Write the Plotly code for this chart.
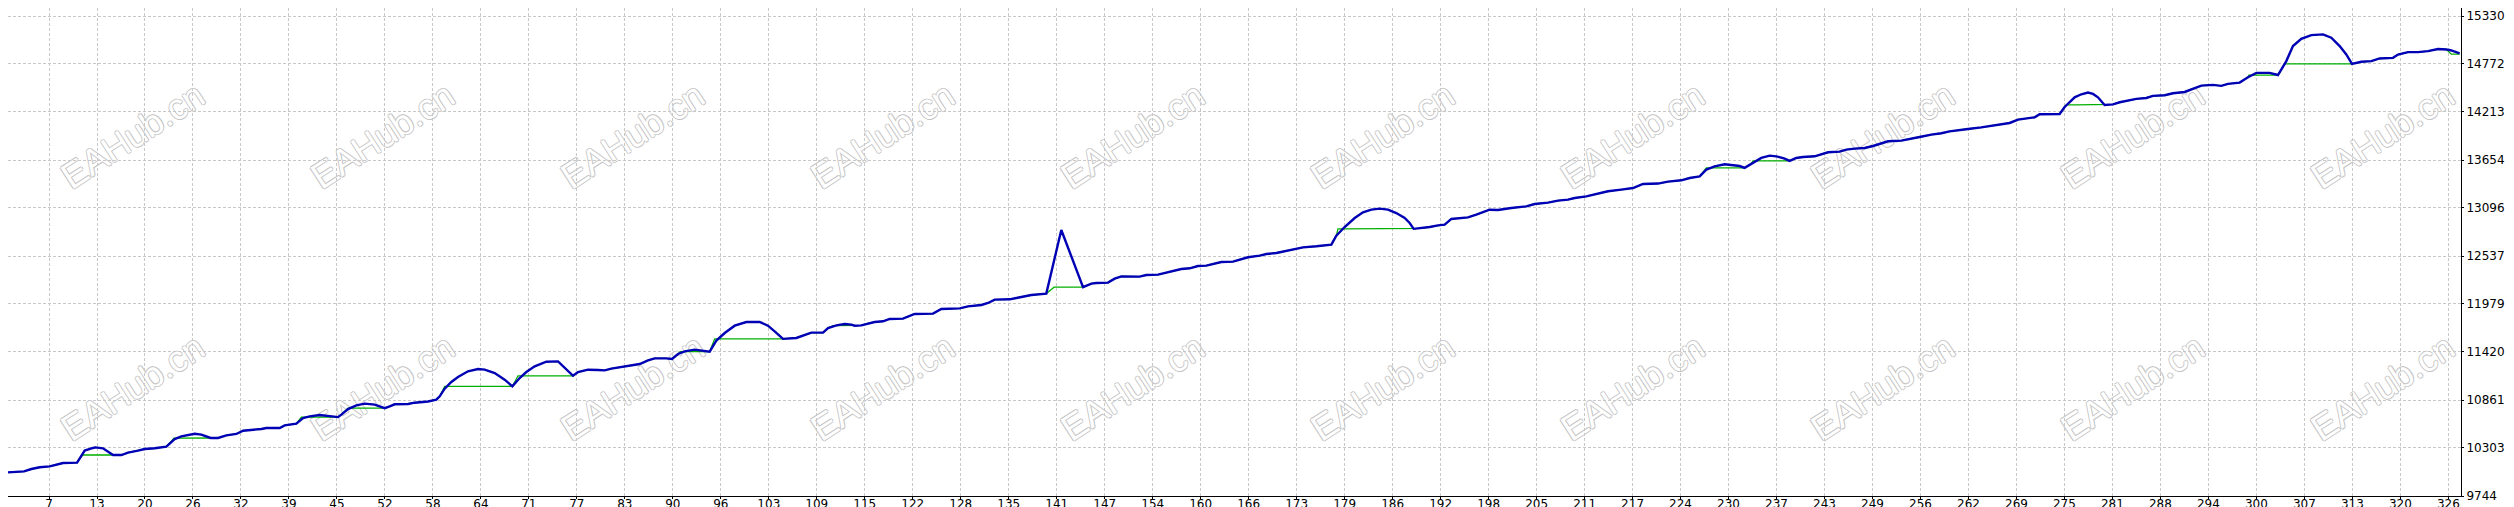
import plotly.graph_objects as go

# equity curve (blue), vertices
equity_x = [
    0.93, 3.07, 4.05, 5.16, 6.49, 7.60, 8.27, 10.14, 11.16, 12.27, 12.58, 13.60, 14.94,
    16.05, 16.94, 18.27, 19.16, 20.49, 21.38, 22.05, 23.16, 24.05, 25.83, 26.72, 27.96,
    28.94, 30.05, 31.39, 32.28, 33.39, 34.72, 35.39, 37.17, 37.83, 39.39, 40.28, 41.17,
    42.50, 43.61, 44.95, 45.39, 46.28, 47.39, 48.50, 49.84, 50.72, 51.17, 51.84, 52.50,
    54.28, 55.17, 56.95, 58.06, 58.51, 59.17, 60.06, 60.95, 62.28, 63.62, 64.51, 65.84,
    67.17, 68.20, 69.17, 70.06, 71.18, 72.73, 74.29, 75.18, 76.29, 76.95, 78.29, 79.62,
    80.51, 81.40, 82.73, 84.07, 85.18, 86.29, 87.18, 88.73, 89.49, 90.29, 91.18, 92.51,
    93.63, 94.51, 95.40, 96.52, 97.85, 99.40, 101.18, 102.29, 103.18, 104.29, 106.07,
    107.18, 108.07, 109.63, 110.30, 111.41, 112.52, 113.41, 113.85, 114.74, 115.63,
    116.52, 117.63, 118.52, 120.30, 121.85, 124.30, 125.41, 127.86, 128.97, 130.75,
    131.64, 132.53, 134.53, 135.41, 136.53, 137.41, 139.41, 141.41, 144.31, 145.42,
    146.08, 147.64, 148.53, 149.42, 151.86, 152.75, 154.31, 155.64, 157.42, 158.53,
    159.64, 160.75, 161.87, 162.75, 164.31, 164.75, 166.31, 167.87, 168.76, 170.09,
    171.65, 172.98, 173.65, 175.42, 176.54, 177.43, 178.09, 179.20, 180.54, 181.65,
    182.76, 183.87, 184.98, 186.09, 187.21, 187.87, 188.41, 189.43, 190.54, 191.65,
    192.54, 193.43, 194.54, 195.65, 196.76, 197.65, 198.54, 199.65, 200.54, 201.43,
    203.43, 204.54, 206.32, 207.66, 208.99, 209.88, 211.43, 212.55, 214.32, 216.10,
    217.66, 218.99, 220.99, 222.33, 224.10, 225.22, 226.55, 227.44, 228.55, 229.88,
    231.22, 231.89, 232.55, 233.44, 234.77, 235.88, 236.77, 237.89, 238.55, 239.44,
    240.33, 241.89, 242.78, 243.67, 245.22, 246.11, 247.22, 248.56, 249.67, 250.78,
    251.67, 253.45, 254.78, 255.89, 257.45, 258.78, 259.89, 261.00, 262.34, 264.11,
    265.45, 266.78, 267.89, 269.01, 270.34, 271.23, 271.89, 274.56, 275.23, 276.56,
    277.45, 278.34, 279.01, 279.67, 280.56, 281.68, 282.57, 283.68, 284.79, 286.12,
    287.01, 288.57, 289.68, 291.23, 292.12, 293.46, 295.01, 296.12, 297.01, 298.57,
    299.68, 300.79, 302.57, 303.68, 304.79, 305.68, 306.79, 308.13, 309.68, 310.79,
    311.91, 312.79, 313.55, 314.80, 316.13, 317.24, 319.02, 319.69, 321.02, 322.35,
    323.69, 325.02, 326.13, 326.80, 327.91,
]
equity_y = [
    10019, 10031, 10058, 10078, 10089, 10109, 10128, 10132, 10272, 10303, 10310, 10299, 10221,
    10221, 10248, 10272, 10291, 10299, 10314, 10318, 10407, 10438, 10469, 10458, 10419,
    10419, 10450, 10466, 10504, 10512, 10524, 10535, 10535, 10566, 10586, 10652, 10671,
    10687, 10675, 10662, 10691, 10756, 10799, 10819, 10807, 10784, 10766, 10788, 10811,
    10815, 10830, 10844, 10865, 10904, 10993, 11071, 11129, 11195, 11222, 11214, 11175,
    11098, 11020, 11117, 11187, 11253, 11307, 11311, 11241, 11143, 11187, 11214, 11210,
    11206, 11226, 11245, 11261, 11280, 11323, 11346, 11346, 11338, 11397, 11428, 11447,
    11439, 11424, 11552, 11641, 11726, 11769, 11769, 11726, 11660, 11573, 11583,
    11621, 11645, 11645, 11699, 11730, 11746, 11738, 11726, 11730, 11753,
    11769, 11777, 11804, 11808, 11862, 11866, 11920, 11928, 11951, 11967,
    11990, 12029, 12033, 12048, 12064, 12083, 12099, 12840, 12174, 12215,
    12223, 12227, 12273, 12300, 12297, 12316, 12320, 12347, 12386, 12394,
    12421, 12425, 12452, 12467, 12471, 12483, 12522, 12541, 12560, 12572,
    12599, 12618, 12638, 12650, 12661, 12669, 12774, 12874, 12979, 13045,
    13076, 13088, 13076, 13037, 12979, 12921, 12853, 12859, 12874, 12894,
    12902, 12968, 12975, 12987, 13018, 13045, 13076, 13072, 13080, 13096,
    13115, 13142, 13158, 13181, 13193, 13212, 13231, 13251, 13290, 13309,
    13328, 13375, 13380, 13402, 13418, 13445, 13464, 13542, 13580, 13604,
    13596, 13584, 13563, 13612, 13678, 13705, 13697, 13670, 13643, 13678,
    13689, 13697, 13720, 13744, 13751, 13775, 13786, 13794, 13817, 13852,
    13872, 13879, 13906, 13922, 13949, 13965, 13988, 14003, 14015, 14034,
    14054, 14069, 14085, 14124, 14143, 14151, 14186, 14190, 14271, 14384,
    14419, 14439, 14423, 14384, 14295, 14302, 14326, 14345, 14365, 14376,
    14400, 14408, 14431, 14446, 14474, 14520, 14528, 14517, 14540, 14555,
    14618, 14668, 14668, 14643, 14805, 14980, 15065, 15108, 15116, 15077,
    14980, 14882, 14773, 14797, 14805, 14836, 14843, 14882, 14910, 14910,
    14921, 14945, 14941, 14929, 14894,
]

# balance (green) stays flat while a trade is open
flat_start = [10.85, 23.07, 40.06, 46.19, 59.17, 68.95, 90.60, 95.18, 111.00,
              140.44, 178.31, 227.44, 233.66, 275.45, 299.80, 304.57, 326.80]
flat_end = [14.94, 27.96, 44.95, 51.17, 68.20, 76.29, 94.51, 104.29, 113.85,
            144.31, 188.41, 232.55, 238.55, 280.56, 303.68, 313.55, 327.91]
flat_level = [10221, 10418, 10662, 10766, 11020, 11143, 11424, 11573, 11726,
              12174, 12853, 13563, 13643, 14295, 14643, 14773, 14886]

x_tick_labels = [0, 7, 13, 20, 26, 32, 39, 45, 52, 58, 64, 71, 77, 83, 90, 96, 103, 109,
                 115, 122, 128, 135, 141, 147, 154, 160, 166, 173, 179, 186, 192, 198,
                 205, 211, 217, 224, 230, 237, 243, 249, 256, 262, 269, 275, 281, 288,
                 294, 300, 307, 313, 320, 326]
y_tick_labels = [9744, 10303, 10861, 11420, 11979, 12537, 13096, 13654, 14213, 14772, 15330]

watermark = "EAHub.cn"


def balance_line():
    pts = []
    for x, y in zip(equity_x, equity_y):
        for x0, x1, lvl in zip(flat_start, flat_end, flat_level):
            if x0 <= x <= x1:
                y = lvl
                break
        pts.append((x, y))
    pts += list(zip(flat_start, flat_level))
    pts.sort()
    return [p[0] for p in pts], [p[1] for p in pts]


W, H = 2514, 507
PW, PH = 2453, 488  # plot area in pixels

bal_x, bal_y = balance_line()

fig = go.Figure()
fig.add_trace(go.Scatter(x=bal_x, y=bal_y, mode='lines',
                         line=dict(color='#00b000', width=1.3), hoverinfo='skip'))
fig.add_trace(go.Scatter(x=equity_x, y=equity_y, mode='lines',
                         line=dict(color='#0000b4', width=2.4), hoverinfo='skip'))

shapes = []
for row_py in (125, 377):
    for i in range(10):
        cx = (123 + 250 * i) / PW
        cy = 1 - row_py / PH
        shapes.append(dict(
            type='rect', xref='paper', yref='paper', layer='below',
            x0=cx - 0.02, x1=cx + 0.02, y0=cy - 0.05, y1=cy + 0.05,
            line=dict(width=0), fillcolor='rgba(0,0,0,0)',
            label=dict(text=watermark, textangle=-33, textposition='middle center',
                       font=dict(family='Liberation Sans', size=36, color='white',
                                 shadow='1px 0 0 #c4c4c4, -1px 0 0 #c4c4c4, '
                                        '0 1px 0 #c4c4c4, 0 -1px 0 #c4c4c4')),
        ))

grid = dict(showgrid=True, gridcolor='#c8c8c8', gridwidth=1, griddash='3px,2px',
            zeroline=False, showline=True, linecolor='black', linewidth=1,
            ticks='outside', ticklen=2, tickcolor='black',
            tickfont=dict(family='DejaVu Sans', size=12, color='black'))

fig.update_layout(
    width=W, height=H,
    margin=dict(l=0, r=W - PW, t=0, b=H - PH, autoexpand=False),
    paper_bgcolor='white', plot_bgcolor='white',
    showlegend=False,
    shapes=shapes,
    xaxis=dict(range=[0.93, 328.09],
               tickvals=[i * 6.4 for i in range(len(x_tick_labels))],
               ticktext=[str(v) for v in x_tick_labels],
               ticklabelstandoff=-5, **grid),
    yaxis=dict(range=[9744, 9744 + PH * 11.6375], side='right',
               tickvals=y_tick_labels, ticktext=[str(v) for v in y_tick_labels],
               ticklabelstandoff=0, ticklabeloverflow='allow', **grid),
)

fig.write_html("out.html")
